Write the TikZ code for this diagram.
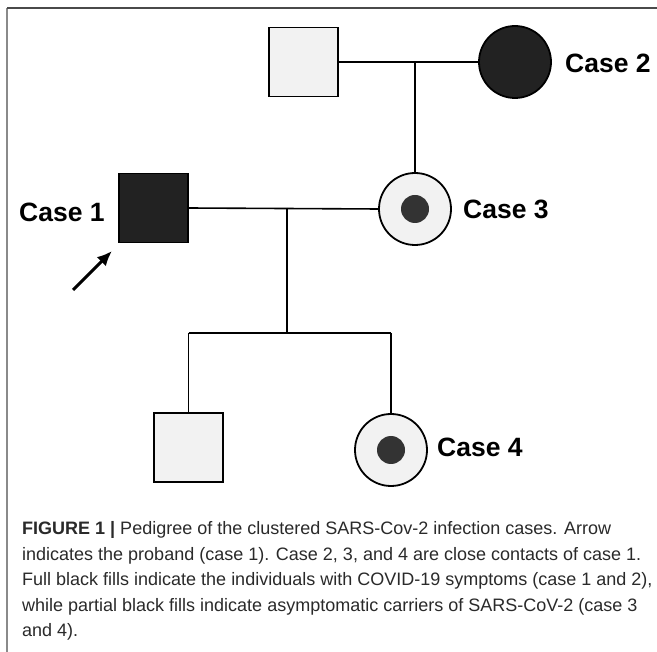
\documentclass[tikz,border=0pt]{standalone}
\usepackage{fontspec}
\setmainfont{Liberation Sans}
\usetikzlibrary{arrows.meta}
\definecolor{lightfill}{HTML}{F2F2F2}
\definecolor{darkfill}{HTML}{222222}
\definecolor{dotfill}{HTML}{333333}
\definecolor{framegray}{HTML}{8A8A8A}
\definecolor{topgray}{HTML}{4A4A4A}
\definecolor{captext}{HTML}{2A2A2A}
\begin{document}
\begin{tikzpicture}[x=1pt,y=-1pt,
  male/.style={rectangle,draw=black,line width=1.8pt,minimum size=69pt,inner sep=0pt,outer sep=0pt},
  female/.style={circle,draw=black,line width=1.8pt,minimum size=72pt,inner sep=0pt,outer sep=0pt},
  healthy/.style={fill=lightfill},
  affected/.style={fill=darkfill},
  carrierdot/.style={circle,fill=dotfill,minimum size=28pt,inner sep=0pt},
  link/.style={line width=1.6pt,draw=black},
  lbl/.style={font=\bfseries\fontsize{26.5}{30}\selectfont,inner sep=0pt,anchor=west},
  captxt/.style={font=\fontsize{18}{22}\selectfont,text=captext,inner sep=0pt,anchor=base west}
]
\useasboundingbox (0,0) rectangle (657,652);
\fill[white] (0,0) rectangle (657,652);
% frame
\draw[framegray,line width=1.6pt] (7,652) -- (7,8);
\draw[topgray,line width=1.4pt] (7,8) -- (657,8);

% individuals
\node[male,healthy] (gf) at (303.5,62) {};
\node[female,affected] (case2) at (515,62) {};
\node[female,healthy] (case3) at (415,209) {};
\node[carrierdot] (dot3) at (case3.center) {};
\node[male,affected] (case1) at (153.5,208) {};
\node[male,healthy] (son) at (188.5,447.5) {};
\node[female,healthy] (case4) at (391,450) {};
\node[carrierdot] (dot4) at (case4.center) {};

% labels
\node[lbl] (l1) at (19,212) {Case 1};
\node[lbl] (l2) at (565,63) {Case 2};
\node[lbl] (l3) at (463,209) {Case 3};
\node[lbl] (l4) at (437,447) {Case 4};

% junctions
\coordinate (j1) at (case3.north |- gf.east);
\coordinate (j2) at (287,208);
\coordinate (j3) at (287,333);
\coordinate (sl) at (son.north |- j3);
\coordinate (sr) at (case4.north |- j3);

\draw[link] (gf.east) -- (case2.west);
\draw[link] (j1) -- (case3.north);
\draw[link] (case1.east) -- (case3.west);
\draw[link] (j2) -- (j3);
\draw[link] (sl) -- (sr);
\draw[link] (sl) -- (son.north);
\draw[link] (sr) -- (case4.north);

% proband arrow
\coordinate (a0) at (73,290);
\coordinate (a1) at (112,251);
\draw[line width=3pt,-{Latex[length=15pt,width=13pt]}] (a0) -- (a1);

% caption
\node[captxt] (c1) at (22,535) {\textbf{FIGURE 1 |} Pedigree of the clustered SARS-Cov-2 infection cases. Arrow};
\node[captxt] (c2) at (22,560.5) {indicates the proband (case 1). Case 2, 3, and 4 are close contacts of case 1.};
\node[captxt] (c3) at (22,586) {Full black fills indicate the individuals with COVID-19 symptoms (case 1 and 2),};
\node[captxt] (c4) at (22,611.5) {while partial black fills indicate asymptomatic carriers of SARS-CoV-2 (case 3};
\node[captxt] (c5) at (22,637) {and 4).};
\end{tikzpicture}
\end{document}
